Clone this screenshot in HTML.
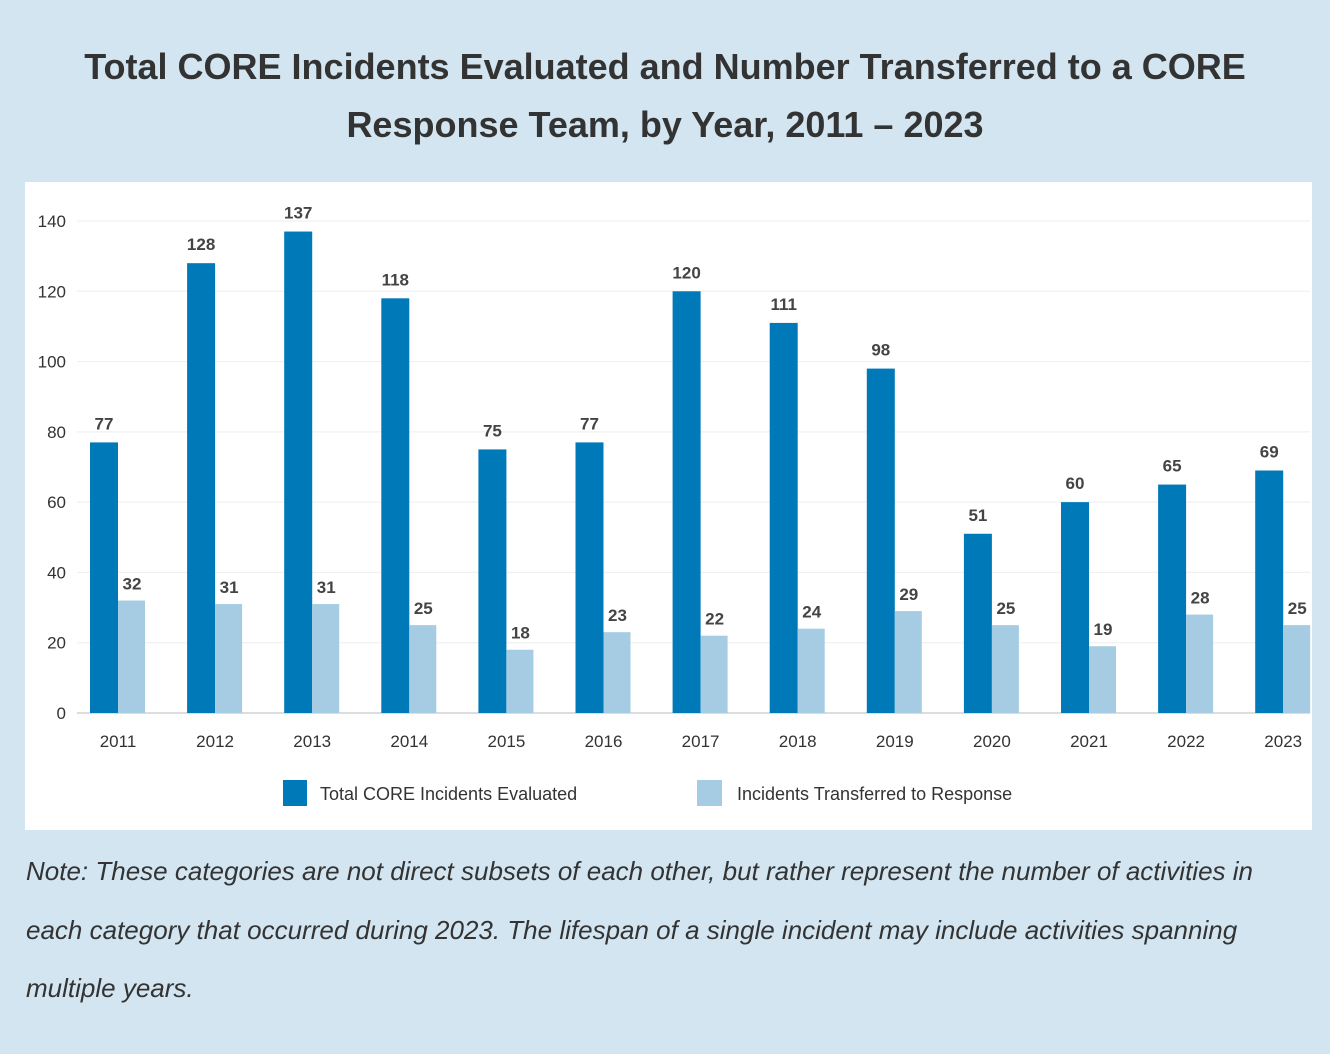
<!DOCTYPE html>
<html><head><meta charset="utf-8"><style>
body{margin:0;width:1330px;height:1054px;background:#d2e5f0;font-family:"Liberation Sans",sans-serif;overflow:hidden;position:relative}
#title{position:absolute;left:0;width:1330px;top:38px;text-align:center;font-weight:bold;font-size:36px;line-height:58px;color:#333}
#panel{position:absolute;left:25px;top:182px;width:1287px;height:648px;background:#fff}
#note{position:absolute;left:26px;top:842px;width:1285px;font-style:italic;font-size:26px;line-height:58.5px;color:#333}
</style></head><body>
<div id="title">Total CORE Incidents Evaluated and Number Transferred to a CORE<br>Response Team, by Year, 2011 – 2023</div>
<div id="panel"></div>
<svg id="chart" width="1330" height="1054" style="position:absolute;left:0;top:0"></svg>
<div id="note">Note: These categories are not direct subsets of each other, but rather represent the number of activities in each category that occurred during 2023. The lifespan of a single incident may include activities spanning multiple years.</div>
<script>
const years=["2011","2012","2013","2014","2015","2016","2017","2018","2019","2020","2021","2022","2023"];
const totalEvaluated=[77,128,137,118,75,77,120,111,98,51,60,65,69];
const transferred=[32,31,31,25,18,23,22,24,29,25,19,28,25];
const yTicks=[0,20,40,60,80,100,120,140];
const svg=document.getElementById('chart');
const NS='http://www.w3.org/2000/svg';
const y0=713,pxPer=492/140,x0=90,step=97.1,bw=28;
const y=v=>y0-v*pxPer;
function mk(t,a,txt){const e=document.createElementNS(NS,t);for(const k in a)e.setAttribute(k,a[k]);if(txt!==undefined)e.textContent=txt;svg.appendChild(e);return e;}
yTicks.forEach(v=>{
 const g=mk('line',{x1:77,x2:1310,y1:y(v),y2:y(v),stroke:v===0?'#ddd':'#eee','stroke-width':v===0?2:1});
 
 
 const t=mk('text',{x:66,y:y(v)+6,'text-anchor':'end','font-size':17,fill:'#333'},String(v));
 
 
});
years.forEach((yr,i)=>{
 const x=x0+i*step;
 const a=mk('rect',{x:x,y:y(totalEvaluated[i]),width:bw,height:totalEvaluated[i]*pxPer,fill:'#0079b8'});
 
 
 const b=mk('rect',{x:x+bw,y:y(transferred[i]),width:bw-1,height:transferred[i]*pxPer,fill:'#a5cce2'});
 
 
 const la=mk('text',{x:x+bw/2,y:y(totalEvaluated[i])-13,'text-anchor':'middle','font-size':17,'font-weight':'bold',fill:'#444'},String(totalEvaluated[i]));
 
 
 const lb=mk('text',{x:x+bw*1.5,y:y(transferred[i])-11,'text-anchor':'middle','font-size':17,'font-weight':'bold',fill:'#444'},String(transferred[i]));
 
 
 const xl=mk('text',{x:x+bw,y:747,'text-anchor':'middle','font-size':17,fill:'#333'},yr);
 
 
});
const l1=mk('rect',{x:283,y:780,width:24,height:26,fill:'#0079b8'});


const t1=mk('text',{x:320,y:800,'font-size':18,fill:'#333'},'Total CORE Incidents Evaluated');


const l2=mk('rect',{x:697,y:780,width:25,height:26,fill:'#a5cce2'});


const t2=mk('text',{x:737,y:800,'font-size':18,fill:'#333'},'Incidents Transferred to Response');


</script>
</body></html>
